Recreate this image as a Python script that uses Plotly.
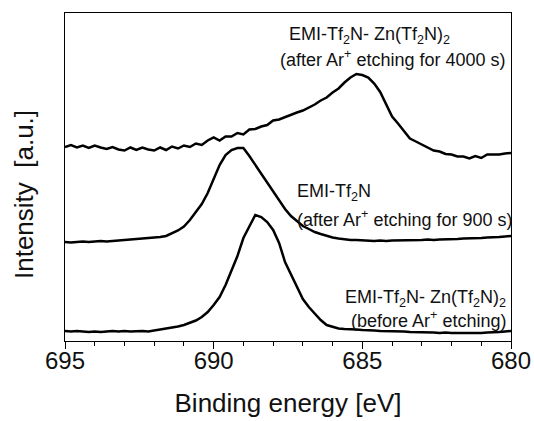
import plotly.graph_objects as go

# Binding energy grid (eV), 695 -> 680 in 0.2 eV steps
energy = [round(695 - 0.2 * i, 1) for i in range(76)]

# EMI-Tf2N- Zn(Tf2N)2 (before Ar+ etching)
before_etch = [10, 9.5, 10, 9.5, 9, 9.5, 9, 9.5, 10, 9.5,
               10, 9.5, 10, 10, 9.5, 10.5, 11, 12, 13, 14.5,
               16, 18, 20.5, 24, 29, 36, 44, 56, 71, 85,
               103, 115, 126, 124, 119, 111, 98, 79, 67, 55,
               42, 34, 27, 21, 16, 14, 12.5, 12, 12, 11.5,
               11, 11, 10.5, 10, 10, 9.5, 10, 9.5, 9, 9,
               8.5, 9, 8.5, 8, 8.5, 8, 8, 7.5, 8, 7.5,
               8, 8.5, 8.5, 9, 9.5, 10]

# EMI-Tf2N (after Ar+ etching for 900 s)
emi_900 = [99, 98.5, 99, 99.5, 99, 99.5, 100, 99.5, 100, 100.5,
           100.5, 101, 101.5, 102, 102.5, 103, 104, 105, 108, 110.5,
           114.5, 121, 129, 137, 148, 163, 176, 186, 191, 193,
           193, 185, 176, 167, 158, 149, 140, 132, 125, 120,
           115, 112, 109, 107, 105, 103.5, 102.5, 101.5, 101, 101,
           100.5, 100.5, 100, 100.5, 100, 100.5, 100.5, 101, 100.5, 101,
           101, 101.5, 101, 101.5, 101.5, 102, 102, 102.5, 102.5, 103,
           103, 103.5, 103.5, 104, 104.5, 105]

# EMI-Tf2N- Zn(Tf2N)2 (after Ar+ etching for 4000 s)
zn_4000 = [194, 196, 193.5, 195.5, 193, 195.5, 193.5, 192, 194, 191.5,
           190.5, 193.5, 191, 193.5, 191.5, 190.5, 193.5, 191, 194.5, 192.5,
           195.5, 194, 197.5, 196, 200.5, 203.5, 200.5, 204.5, 204.5, 208,
           206.5, 211.5, 212, 214.5, 216, 220.5, 221.5, 224, 226.5, 228.5,
           230.5, 233.5, 236.5, 240.5, 243.5, 248.5, 252.5, 258.5, 263.5, 267,
           266, 263.5, 257.5, 249, 237, 224.5, 217.5, 210.5, 202.5, 199.5,
           196.5, 193.5, 190.5, 189.5, 187, 186.5, 184.5, 184.5, 182.5, 185,
           183, 186.5, 186.5, 186.5, 187.5, 188]

# Tick positions / labels
minor_ticks = list(range(695, 679, -1))
major_ticks = [695, 690, 685, 680]
minor_text = [str(v) if v in major_ticks else "" for v in minor_ticks]

FONT = "Liberation Sans, Arial, sans-serif"

fig = go.Figure()
fig.add_trace(go.Scatter(x=energy, y=before_etch, mode="lines", xaxis="x2",
                         line=dict(color="black", width=2.5),
                         showlegend=False, hoverinfo="skip"))
for s in [emi_900, zn_4000]:
    fig.add_trace(go.Scatter(x=energy, y=s, mode="lines",
                             line=dict(color="black", width=2.5),
                             showlegend=False, hoverinfo="skip"))

labels = [
    dict(x=687.53, y=306, text="EMI-Tf<sub>2</sub>N- Zn(Tf<sub>2</sub>N)<sub>2</sub>", xanchor="left"),
    dict(x=687.84, y=283, text="(after Ar<sup>+</sup> etching for 4000 s)", xanchor="left"),
    dict(x=687.26, y=149, text="EMI-Tf<sub>2</sub>N", xanchor="left"),
    dict(x=687.26, y=123, text="(after Ar<sup>+</sup> etching for 900 s)", xanchor="left"),
    dict(x=680.1, y=43, text="EMI-Tf<sub>2</sub>N- Zn(Tf<sub>2</sub>N)<sub>2</sub>", xanchor="right"),
    dict(x=680.1, y=22, text="(before Ar<sup>+</sup> etching)", xanchor="right"),
]
for lb in labels:
    fig.add_annotation(x=lb["x"], y=lb["y"], text=lb["text"], xref="x", yref="y",
                       xanchor=lb["xanchor"], yanchor="middle", showarrow=False,
                       font=dict(family=FONT, size=18, color="#111"))

# y-axis title (placed slightly below the plot centre, as in the reference)
fig.add_annotation(x=-0.092, y=0.448, xref="paper", yref="paper",
                   text="Intensity  [a.u.]", textangle=-90, showarrow=False,
                   xanchor="center", yanchor="middle",
                   font=dict(family=FONT, size=26, color="#111"))

fig.update_layout(
    width=534, height=421,
    margin=dict(l=65, r=23, t=13, b=80, autoexpand=False),
    paper_bgcolor="white", plot_bgcolor="white",
    font=dict(family=FONT, color="#111"),
    xaxis=dict(
        range=[695, 680], showgrid=False, zeroline=False, automargin=False,
        showline=True, linecolor="black", linewidth=1.2, mirror=True,
        tickmode="array", tickvals=minor_ticks, ticktext=minor_text,
        ticks="outside", ticklen=4, tickwidth=1.2, tickcolor="black",
        tickfont=dict(size=24, family=FONT, color="#111"),
        ticklabelstandoff=-6,
        title=dict(text="Binding energy [eV]", font=dict(size=26, family=FONT, color="#111"), standoff=20),
    ),
    xaxis2=dict(
        overlaying="x", matches="x", side="bottom", anchor="y",
        range=[695, 680], showgrid=False, zeroline=False, automargin=False,
        showline=False, showticklabels=False,
        tickmode="array", tickvals=major_ticks,
        ticks="outside", ticklen=7, tickwidth=1.2, tickcolor="black",
    ),
    yaxis=dict(
        range=[0, 328], showgrid=False, zeroline=False, automargin=False,
        showline=True, linecolor="black", linewidth=1.2, mirror=True,
        ticks="", showticklabels=False,
    ),
)

fig.write_html("out.html", config={"displayModeBar": False},
               post_script="document.body.style.margin='0px';document.body.style.padding='0px';")
